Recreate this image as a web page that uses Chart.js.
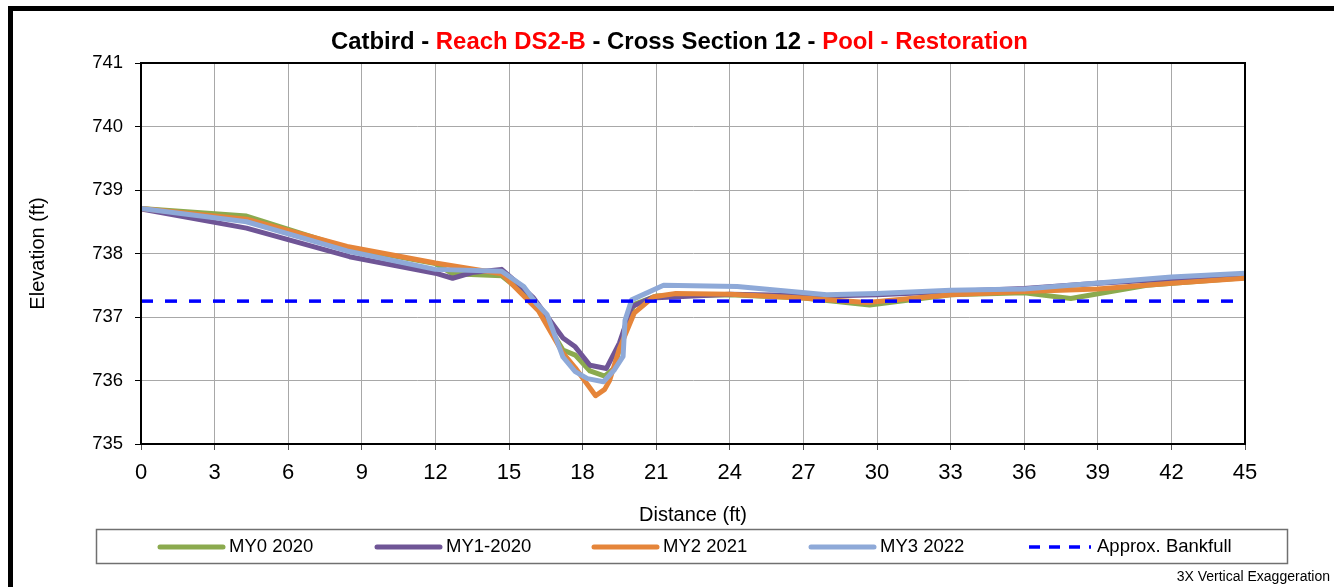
<!DOCTYPE html>
<html>
<head>
<meta charset="utf-8">
<script src="https://cdn.jsdelivr.net/npm/chart.js@4.4.1/dist/chart.umd.min.js"></script>
<style>
  html, body { margin: 0; padding: 0; background: #fff; }
  #wrap { width: 1334px; height: 587px; }
</style>
</head>
<body>
<div id="wrap"><canvas id="xsChart" width="1334" height="587"></canvas></div>
<script>
// distance (ft) / elevation (ft)
const my0Dist = [0, 4.3, 8.3, 12, 12.7, 14.7, 16, 17.2, 17.7, 18.3, 18.9, 19.3, 19.7, 20.1, 21, 24, 27, 29.7, 33, 36, 37.9, 41, 45]
const my0Elev = [738.71, 738.59, 738.1, 737.84, 737.68, 737.65, 737.25, 736.48, 736.4, 736.15, 736.07, 736.2, 736.8, 737.2, 737.33, 737.35, 737.3, 737.19, 737.35, 737.38, 737.29, 737.5, 737.62]

const my1Dist = [0, 4.3, 8.5, 12, 12.7, 13.5, 14.7, 15.3, 16, 17.2, 17.7, 18.3, 18.97, 19.5, 20, 20.8, 24, 28, 30, 33, 36, 39, 42, 45]
const my1Elev = [738.7, 738.4, 737.95, 737.69, 737.61, 737.7, 737.75, 737.55, 737.3, 736.67, 736.53, 736.24, 736.19, 736.59, 737.16, 737.3, 737.36, 737.33, 737.35, 737.4, 737.45, 737.53, 737.6, 737.65]

const my2Dist = [0, 4.3, 8.4, 12, 14.7, 16.2, 17.2, 17.7, 18.53, 18.9, 19.1, 19.5, 20.1, 20.9, 21.8, 24, 27, 29.6, 33, 36, 39, 42, 45]
const my2Elev = [738.71, 738.54, 738.11, 737.85, 737.68, 737.1, 736.43, 736.2, 735.76, 735.86, 736.0, 736.5, 737.06, 737.32, 737.37, 737.36, 737.3, 737.23, 737.35, 737.4, 737.44, 737.53, 737.61]

const my3Dist = [0, 4.3, 8.4, 12, 14.7, 15.6, 16.1, 16.55, 17.2, 17.7, 18.2, 18.85, 19.3, 19.65, 19.73, 20, 21.3, 24.3, 27.95, 30, 33, 36, 42, 45]
const my3Elev = [738.71, 738.5, 738.04, 737.75, 737.72, 737.48, 737.22, 737.04, 736.37, 736.14, 736.03, 735.98, 736.17, 736.38, 736.95, 737.27, 737.5, 737.48, 737.35, 737.37, 737.42, 737.44, 737.63, 737.69]

const bankfullDist = [0, 45]
const bankfullElev = [737.25, 737.25]

const seriesNames = ['MY0 2020', 'MY1-2020', 'MY2 2021', 'MY3 2022', 'Approx. Bankfull']
const seriesColors = ['#8BAA4E', '#6F5596', '#E5853A', '#8EA9D8', '#0000FF']

const titleParts = [
  ['Catbird - ', '#000000'],
  ['Reach DS2-B', '#FF0000'],
  [' - Cross Section 12 - ', '#000000'],
  ['Pool - Restoration', '#FF0000']
]
const noteText = '3X Vertical Exaggeration'

const FONT = "'Liberation Sans', Arial, sans-serif"

function pts(xs, ys) {
  return xs.map((x, i) => ({ x, y: ys[i] }))
}

function lineSet(i, xs, ys, order) {
  return {
    label: seriesNames[i],
    data: pts(xs, ys),
    borderColor: seriesColors[i],
    backgroundColor: seriesColors[i],
    borderWidth: 5,
    borderJoinStyle: 'round',
    borderCapStyle: 'round',
    pointRadius: 0,
    tension: 0,
    order
  }
}

const bankfull = lineSet(4, bankfullDist, bankfullElev, 0)
bankfull.borderWidth = 3.5
bankfull.borderDash = [12, 12]
bankfull.borderCapStyle = 'butt'

const datasets = [
  lineSet(0, my0Dist, my0Elev, 4),
  lineSet(1, my1Dist, my1Elev, 3),
  lineSet(2, my2Dist, my2Elev, 2),
  lineSet(3, my3Dist, my3Elev, 1),
  bankfull
]

// title, legend box, frame and note drawn around the plot
const decor = {
  id: 'decor',
  beforeDraw(chart) {
    const ctx = chart.ctx
    ctx.save()
    ctx.fillStyle = '#fff'
    ctx.fillRect(0, 0, chart.width, chart.height)
    ctx.restore()
  },
  afterDraw(chart) {
    const { ctx, chartArea: a } = chart
    ctx.save()

    // plot border
    ctx.strokeStyle = '#000'
    ctx.lineWidth = 2
    ctx.strokeRect(a.left, a.top, a.right - a.left, a.bottom - a.top)

    // title, mixed colours
    ctx.font = 'bold 20px ' + FONT
    const full = titleParts.map((p) => p[0]).join('')
    const size = 20 * 698 / ctx.measureText(full).width
    ctx.font = 'bold ' + size.toFixed(1) + 'px ' + FONT
    ctx.textBaseline = 'alphabetic'
    ctx.textAlign = 'left'
    let tx = 331
    titleParts.forEach(([txt, col]) => {
      ctx.fillStyle = col
      ctx.fillText(txt, tx, 49)
      tx += ctx.measureText(txt).width
    })

    // legend box
    ctx.strokeStyle = '#707070'
    ctx.lineWidth = 1.5
    ctx.strokeRect(96.5, 529.5, 1191, 34)
    ctx.font = '18.5px ' + FONT
    ctx.textBaseline = 'middle'
    chart.data.datasets.forEach((ds, i) => {
      const x0 = 160 + i * 217
      ctx.strokeStyle = ds.borderColor
      ctx.lineWidth = i === 4 ? 3.5 : 5
      ctx.lineCap = i === 4 ? 'butt' : 'round'
      ctx.setLineDash(i === 4 ? [11, 9] : [])
      ctx.beginPath()
      ctx.moveTo(x0 + (i === 4 ? 1 : 0), 547)
      ctx.lineTo(x0 + 63, 547)
      ctx.stroke()
      ctx.setLineDash([])
      ctx.fillStyle = '#000'
      ctx.fillText(ds.label, x0 + 69, 547)
    })

    // note
    ctx.font = '14px ' + FONT
    ctx.textAlign = 'right'
    ctx.textBaseline = 'alphabetic'
    ctx.fillText(noteText, 1330, 581)

    // outer frame
    ctx.fillStyle = '#000'
    ctx.fillRect(8, 6, chart.width - 8, 5)
    ctx.fillRect(8, 6, 5, chart.height - 6)
    ctx.restore()
  }
}

new Chart(document.getElementById('xsChart'), {
  type: 'line',
  data: { datasets },
  plugins: [decor],
  options: {
    responsive: false,
    devicePixelRatio: 1,
    animation: false,
    layout: { padding: { left: 22, top: 63, right: 89, bottom: 56 } },
    plugins: {
      legend: { display: false },
      title: { display: false },
      tooltip: { enabled: false }
    },
    scales: {
      x: {
        type: 'linear',
        min: 0,
        max: 45,
        afterFit: (s) => { s.height = 87 },
        ticks: {
          stepSize: 3,
          color: '#000',
          font: { family: FONT, size: 22 },
          padding: 10,
          maxRotation: 0
        },
        grid: { color: '#a8a8a8', lineWidth: 1, tickLength: 6, tickColor: '#555' },
        border: { color: '#000', width: 2 },
        title: {
          display: true,
          text: 'Distance (ft)',
          color: '#000',
          font: { family: FONT, size: 20 },
          padding: 4
        }
      },
      y: {
        min: 735,
        max: 741,
        afterFit: (s) => { s.width = 119 },
        ticks: {
          stepSize: 1,
          color: '#000',
          font: { family: FONT, size: 18.5 },
          padding: 12
        },
        grid: { color: '#a8a8a8', lineWidth: 1, tickLength: 6, tickColor: '#000' },
        border: { color: '#000', width: 2 },
        title: {
          display: true,
          text: 'Elevation (ft)',
          color: '#000',
          font: { family: FONT, size: 20 },
          padding: 4
        }
      }
    }
  }
})
</script>
</body>
</html>
